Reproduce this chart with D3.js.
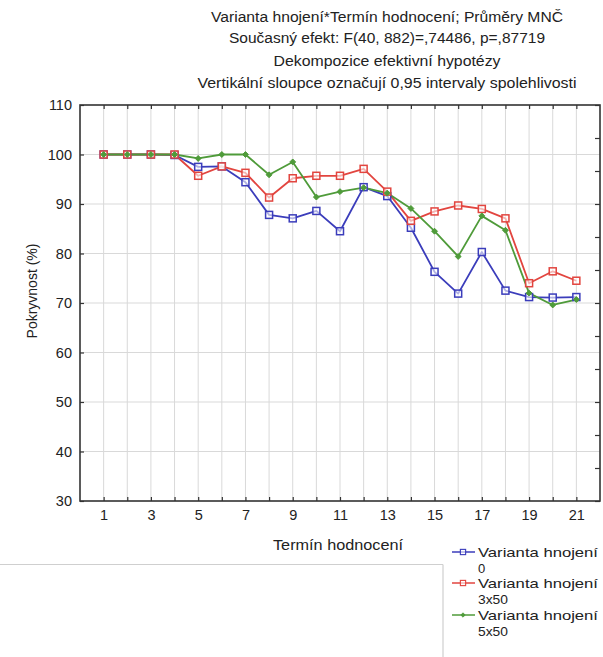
<!DOCTYPE html>
<html>
<head>
<meta charset="utf-8">
<script src="https://cdn.jsdelivr.net/npm/d3@7"></script>
<style>
  html, body { margin: 0; padding: 0; background: #fff; }
  svg { display: block; font-family: "Liberation Sans", Arial, sans-serif; }
</style>
</head>
<body>
<svg id="chart" width="603" height="657"></svg>
<script>
// Evaluation terms (x axis)
const terms = d3.range(1, 22);
const xTickLabels = [1, 3, 5, 7, 9, 11, 13, 15, 17, 19, 21];
const yTickLabels = [30, 40, 50, 60, 70, 80, 90, 100, 110];

// Mean coverage (%) per fertilisation variant
const variant0 = [100, 100, 100, 99.9, 97.5, 97.6, 94.4, 87.8, 87.1, 88.6, 84.5, 93.4, 91.6, 85.2, 76.3, 71.9, 80.3, 72.5, 71.2, 71.1, 71.2];
const variant3x50 = [100, 100, 100, 100, 95.7, 97.6, 96.3, 91.3, 95.2, 95.7, 95.7, 97.1, 92.5, 86.6, 88.5, 89.7, 89.0, 87.1, 74.0, 76.4, 74.5];
const variant5x50 = [100, 100, 100, 100, 99.2, 100, 100, 95.9, 98.5, 91.4, 92.5, 93.3, 92.2, 89.1, 84.5, 79.4, 87.6, 84.7, 72.0, 69.6, 70.7];

const seriesNames = ["Varianta hnojení", "Varianta hnojení", "Varianta hnojení"];
const seriesSub = ["0", "3x50", "5x50"];
const titleLines = [
  "Varianta hnojení*Termín hodnocení; Průměry MNČ",
  "Současný efekt: F(40, 882)=,74486, p=,87719",
  "Dekompozice efektivní hypotézy",
  "Vertikální sloupce označují 0,95 intervaly spolehlivosti"
];

const series = [
  { values: variant0, color: "#3b3dbb", shape: "square" },
  { values: variant3x50, color: "#e2453f", shape: "square" },
  { values: variant5x50, color: "#4f9b3a", shape: "diamond" }
];

const svg = d3.select("#chart");
const plotLeft = 80, plotRight = 600, plotTop = 105, plotBottom = 501;

const x = d3.scaleLinear().domain([0, 22]).range([plotLeft, plotRight]);
const y = d3.scaleLinear().domain([30, 110]).range([plotBottom, plotTop]);
const yRight = d3.scaleLinear().domain([0, 12]).range([plotBottom, plotTop]);

// Title block
const titleY = [17, 38, 61, 83];
const titleW = [352, 316, 227, 379];
svg.append("g").selectAll("text").data(titleLines).join("text")
  .attr("x", 387).attr("y", (d, i) => titleY[i] + 5)
  .attr("text-anchor", "middle")
  .attr("font-size", 14)
  .attr("fill", "#222")
  .attr("textLength", (d, i) => titleW[i])
  .attr("lengthAdjust", "spacingAndGlyphs")
  .text(d => d);

// Grid
const grid = svg.append("g").attr("stroke", "#d9d9d9").attr("stroke-width", 1);
grid.selectAll("line.v").data(terms).join("line")
  .attr("x1", d => x(d)).attr("x2", d => x(d))
  .attr("y1", plotTop).attr("y2", plotBottom);
grid.selectAll("line.h").data(yTickLabels.slice(1, -1)).join("line")
  .attr("x1", plotLeft).attr("x2", plotRight)
  .attr("y1", d => y(d)).attr("y2", d => y(d));

// Axes with inward ticks
const axisColor = "#333";
const gLeft = svg.append("g").attr("transform", `translate(${plotLeft},0)`)
  .call(d3.axisLeft(y).tickValues(yTickLabels).tickSize(-4).tickPadding(8));
const gBottom = svg.append("g").attr("transform", `translate(0,${plotBottom})`)
  .call(d3.axisBottom(x).tickValues(terms).tickSize(-4).tickPadding(9)
    .tickFormat(d => xTickLabels.includes(d) ? d : ""));
const gTop = svg.append("g").attr("transform", `translate(0,${plotTop})`)
  .call(d3.axisTop(x).tickValues(terms).tickSize(-4).tickFormat(""));
const gRight = svg.append("g").attr("transform", `translate(${plotRight},0)`)
  .call(d3.axisRight(yRight).ticks(12).tickSize(-5).tickFormat(""));

[gLeft, gBottom, gTop, gRight].forEach(g => {
  g.select(".domain").remove();
  g.selectAll(".tick line").attr("stroke", axisColor).attr("stroke-width", 1.2);
  g.selectAll(".tick text").attr("font-size", 14.5).attr("fill", "#222")
    .attr("font-family", "'Liberation Sans', Arial, sans-serif");
});

// Frame
svg.append("rect")
  .attr("x", plotLeft).attr("y", plotTop)
  .attr("width", plotRight - plotLeft).attr("height", plotBottom - plotTop)
  .attr("fill", "none").attr("stroke", "#333").attr("stroke-width", 1.6);

// Axis titles
svg.append("text")
  .attr("x", 338).attr("y", 550)
  .attr("text-anchor", "middle").attr("font-size", 14).attr("fill", "#222")
  .attr("textLength", 130).attr("lengthAdjust", "spacingAndGlyphs")
  .text("Termín hodnocení");
svg.append("text")
  .attr("transform", "translate(37,291) rotate(-90)")
  .attr("text-anchor", "middle").attr("font-size", 14).attr("fill", "#222")
  .text("Pokryvnost (%)");

// Markers
function drawMarker(sel, shape, color) {
  if (shape === "square") {
    sel.append("rect")
      .attr("x", -3.5).attr("y", -3.5).attr("width", 7).attr("height", 7)
      .attr("fill", "#fff").attr("fill-opacity", 0.6)
      .attr("stroke", color).attr("stroke-width", 1.5);
  } else {
    sel.append("path")
      .attr("d", d3.symbol(d3.symbolDiamond2, 22)())
      .attr("fill", color).attr("stroke", color).attr("stroke-width", 1);
  }
}

const line = d3.line().x((d, i) => x(terms[i])).y(d => y(d));
const plot = svg.append("g");
series.forEach(s => {
  plot.append("path")
    .datum(s.values)
    .attr("d", line)
    .attr("fill", "none")
    .attr("stroke", s.color)
    .attr("stroke-width", 1.8)
    .attr("stroke-linejoin", "round");
});
series.forEach(s => {
  plot.append("g").selectAll("g").data(s.values).join("g")
    .attr("transform", (d, i) => `translate(${x(terms[i])},${y(d)})`)
    .each(function () { drawMarker(d3.select(this), s.shape, s.color); });
});

// Legend frame edges
const legendFrame = svg.append("g").attr("stroke", "#cfcfcf").attr("stroke-width", 1.2).attr("fill", "none");
legendFrame.append("line").attr("x1", 0).attr("x2", 443).attr("y1", 564.5).attr("y2", 564.5);
legendFrame.append("line").attr("x1", 443).attr("x2", 443).attr("y1", 564.5).attr("y2", 657);

// Legend entries
const legendY = [552, 583, 615];
series.forEach((s, i) => {
  const g = svg.append("g").attr("transform", `translate(0,${legendY[i]})`);
  g.append("line").attr("x1", 452).attr("x2", 475).attr("y1", 0).attr("y2", 0)
    .attr("stroke", s.color).attr("stroke-width", 1.5);
  const m = g.append("g").attr("transform", "translate(463,0) scale(0.75)");
  drawMarker(m, s.shape, s.color);
  g.append("text").attr("x", 478).attr("y", 5)
    .attr("font-size", 13).attr("fill", "#222")
    .attr("textLength", 120).attr("lengthAdjust", "spacingAndGlyphs")
    .text(seriesNames[i]);
  g.append("text").attr("x", 478).attr("y", 21)
    .attr("font-size", 13).attr("fill", "#222")
    .attr("textLength", seriesSub[i].length > 1 ? 30 : null)
    .attr("lengthAdjust", "spacingAndGlyphs")
    .text(seriesSub[i]);
});
</script>
</body>
</html>
